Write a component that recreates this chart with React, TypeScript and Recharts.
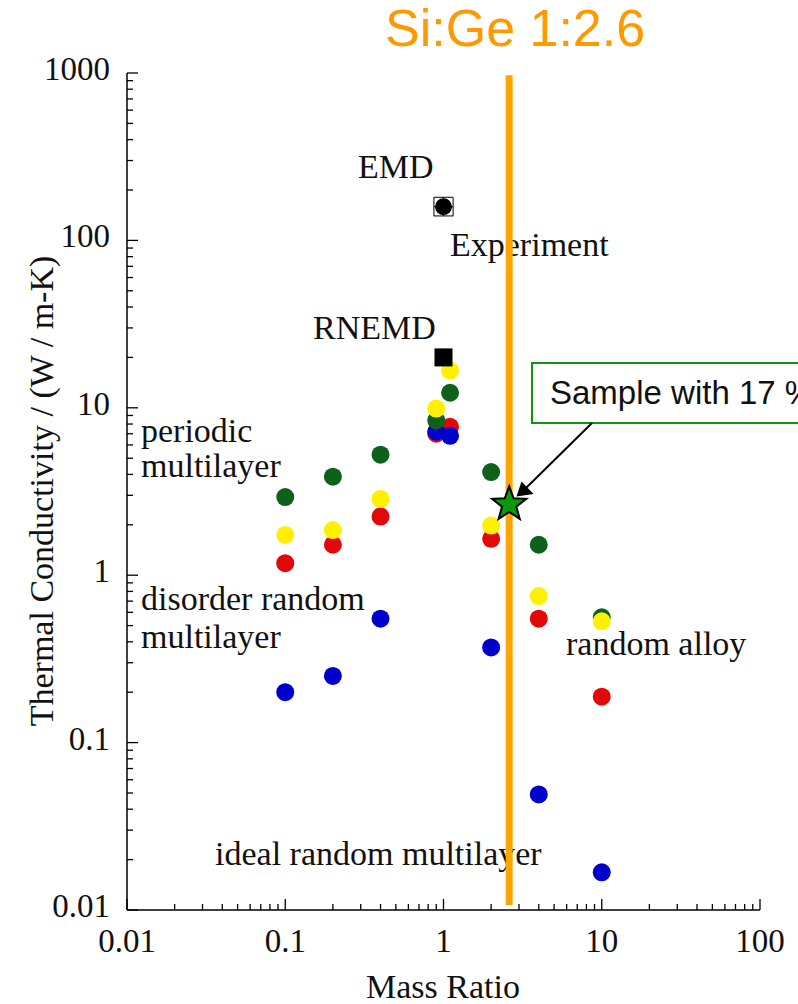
import React from 'react';
import {ScatterChart, Scatter, XAxis, YAxis, ReferenceLine, ErrorBar} from 'recharts';

// mass ratio positions of the simulated points
const massRatio = [0.1, 0.2, 0.4, 0.9, 1.1, 2, 4, 10];
// thermal conductivity, W / m-K
const greenValues = [2.93, 3.88, 5.25, 8.4, 12.3, 4.13, 1.52, 0.56];
const yellowValues = [1.74, 1.86, 2.86, 9.9, 16.7, 1.98, 0.75, 0.53];
const redValues = [1.18, 1.52, 2.24, 7.0, 7.7, 1.65, 0.55, 0.188];
const blueValues = [0.2, 0.25, 0.55, 7.2, 6.8, 0.37, 0.049, 0.0168];

const emdPoint = [{x: 1, y: 159, ex: [0.13, 0.15], ey: [19, 22]}];
const rnemdPoint = [{x: 1, y: 20}];
const samplePoint = [{x: 2.6, y: 2.65}];
const siGeRatio = 2.6;

const xDecades = [0.01, 0.1, 1, 10, 100];
const yDecades = [0.01, 0.1, 1, 10, 100, 1000];
const minorSteps = [1, 2, 3, 4, 5, 6, 7, 8, 9];

const buildTicks = (decades: number[]) => {
	const out: number[] = [];
	decades.forEach((d, i) => {
		if (i === decades.length - 1) {
			out.push(d);
			return;
		}
		minorSteps.forEach(m => out.push(+(d * m).toPrecision(3)));
	});
	return out;
};
const xTicks = buildTicks(xDecades);
const yTicks = buildTicks(yDecades);

const toRows = (vals: number[]) => massRatio.map((x, i) => ({x, y: vals[i]}));

const SERIF = '"Liberation Serif", "Times New Roman", serif';
const SANS = '"Liberation Sans", Arial, sans-serif';

const GREEN = '#0E611B';
const YELLOW = '#FFF000';
const RED = '#E00808';
const BLUE = '#0000CC';

const isMajor = (v: number) => Math.abs(Math.log10(v) - Math.round(Math.log10(v))) < 1e-6;

function makeTick(side: 'bottom' | 'top' | 'left' | 'right') {
	return (props: any) => {
		const {x, y, payload} = props;
		const major = isMajor(payload.value);
		const len = major ? 11 : 6;
		let line;
		if (side === 'bottom') line = <line x1={x} x2={x} y1={y} y2={y - len} stroke="#000" strokeWidth={1.3}/>;
		else if (side === 'top') line = <line x1={x} x2={x} y1={y} y2={y + len} stroke="#000" strokeWidth={1.3}/>;
		else if (side === 'left') line = <line x1={x} x2={x + len} y1={y} y2={y} stroke="#000" strokeWidth={1.3}/>;
		else line = <line x1={x} x2={x - len} y1={y} y2={y} stroke="#000" strokeWidth={1.3}/>;
		let label = null;
		if (major && side === 'bottom') {
			label = <text x={x} y={y + 42} textAnchor="middle" fontFamily={SERIF} fontSize={33} fill="#111">{String(payload.value)}</text>;
		}
		if (major && side === 'left') {
			label = <text x={x - 17} y={y + 7} textAnchor="end" fontFamily={SERIF} fontSize={33} fill="#111">{String(payload.value)}</text>;
		}
		return <g>{line}{label}</g>;
	};
}

const dot = (color: string) => (props: any) => (
	<circle cx={props.cx} cy={props.cy} r={9} fill={color}/>
);

const blackCircle = (props: any) => <circle cx={props.cx} cy={props.cy} r={8.5} fill="#000"/>;
const blackSquare = (props: any) => <rect x={props.cx - 9} y={props.cy - 9} width={18} height={18} fill="#000"/>;

const star = (props: any) => {
	const {cx, cy} = props;
	const pts: string[] = [];
	for (let i = 0; i < 10; i++) {
		const r = i % 2 === 0 ? 18 : 7.5;
		const a = -Math.PI / 2 + (i * Math.PI) / 5;
		pts.push(`${cx + r * Math.cos(a)},${cy + r * Math.sin(a)}`);
	}
	return <polygon points={pts.join(' ')} fill="#0A9A0A" stroke="#000" strokeWidth={2}/>;
};

const axisLine = {stroke: '#000', strokeWidth: 1.5};

export default function App() {
	return (
		<div style={{position: 'absolute', left: 0, top: 0, width: 798, height: 1004, overflow: 'hidden', background: '#fff'}}>
			<svg width={798} height={1004} style={{position: 'absolute', left: 0, top: 0}}>
				<g fontFamily={SERIF} fontSize={34} fill="#111">
					<text x={358} y={178}>EMD</text>
					<text x={450} y={256}>Experiment</text>
					<text x={313} y={339}>RNEMD</text>
					<text x={141} y={442}>periodic</text>
					<text x={141} y={477}>multilayer</text>
					<text x={141} y={610}>disorder random</text>
					<text x={141} y={648}>multilayer</text>
					<text x={566} y={655}>random alloy</text>
					<text x={215} y={865}>ideal random multilayer</text>
					<text x={443} y={998} textAnchor="middle">Mass Ratio</text>
					<text x={53} y={491} textAnchor="middle" transform="rotate(-90 53 491)">Thermal Conductivity / (W / m-K)</text>
				</g>
			</svg>
			<div style={{position: 'absolute', left: 0, top: 0}}>
				<ScatterChart width={798} height={1004} margin={{top: 73, right: 38, bottom: 34, left: 37}}>
					<XAxis dataKey="x" type="number" scale="log" domain={[0.01, 100]} allowDataOverflow
						   ticks={xTicks} interval={0} tickSize={0} tickMargin={0} height={60}
						   axisLine={axisLine} tickLine={false} tick={makeTick('bottom')}/>
					<XAxis xAxisId="top" orientation="top" dataKey="x" type="number" scale="log" domain={[0.01, 100]}
						   allowDataOverflow ticks={xTicks} interval={0} tickSize={0} tickMargin={0} height={0}
						   axisLine={axisLine} tickLine={false} tick={makeTick('top')}/>
					<YAxis dataKey="y" type="number" scale="log" domain={[0.01, 1000]} allowDataOverflow
						   ticks={yTicks} interval={0} tickSize={0} tickMargin={0} width={90}
						   axisLine={axisLine} tickLine={false} tick={makeTick('left')}/>
					<YAxis yAxisId="right" orientation="right" dataKey="y" type="number" scale="log" domain={[0.01, 1000]}
						   allowDataOverflow ticks={yTicks} interval={0} tickSize={0} tickMargin={0} width={0}
						   axisLine={axisLine} tickLine={false} tick={makeTick('right')}/>
					<ReferenceLine segment={[{x: siGeRatio, y: 0.0107}, {x: siGeRatio, y: 970}]} stroke="#FFA500" strokeWidth={7}/>
					<Scatter name="red" data={toRows(redValues)} shape={dot(RED)} isAnimationActive={false}/>
					<Scatter name="blue" data={toRows(blueValues)} shape={dot(BLUE)} isAnimationActive={false}/>
					<Scatter name="green" data={toRows(greenValues)} shape={dot(GREEN)} isAnimationActive={false}/>
					<Scatter name="yellow" data={toRows(yellowValues)} shape={dot(YELLOW)} isAnimationActive={false}/>
					<Scatter name="EMD" data={emdPoint} shape={blackCircle} isAnimationActive={false}>
						<ErrorBar dataKey="ey" direction="y" width={9.5} stroke="#000" strokeWidth={1} isAnimationActive={false}/>
						<ErrorBar dataKey="ex" direction="x" width={9.5} stroke="#000" strokeWidth={1} isAnimationActive={false}/>
					</Scatter>
					<Scatter name="RNEMD" data={rnemdPoint} shape={blackSquare} isAnimationActive={false}/>
					<Scatter name="sample" data={samplePoint} shape={star} isAnimationActive={false}/>
				</ScatterChart>
			</div>
			<svg width={798} height={1004} style={{position: 'absolute', left: 0, top: 0, pointerEvents: 'none'}}>
				<text x={385} y={46} fontFamily={SANS} fontSize={52} fill="#FF9900">Si:Ge 1:2.6</text>
				<rect x={532} y={363} width={300} height={60} fill="#fff" stroke="#0F960F" strokeWidth={2}/>
				<text x={550} y={404} fontFamily={SANS} fontSize={33} fill="#111">Sample with 17 %</text>
				<line x1={592} y1={423} x2={526} y2={488} stroke="#000" strokeWidth={2}/>
				<polygon points="516.5,496.5 521.5,481.5 533.5,494" fill="#000"/>
			</svg>
		</div>
	);
}
